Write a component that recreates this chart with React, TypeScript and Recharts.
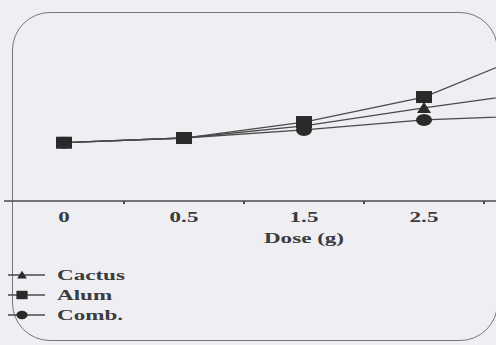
import React from 'react';
import { LineChart, Line, XAxis, YAxis, Legend } from 'recharts';

// ---- data ----
const doseLabels = ['0', '0.5', '1.5', '2.5', '3.5'];
const cactus = [31, 33.5, 40, 49.5, 58.5];
const alum = [31, 33.5, 42, 55.3, 81.4];
const comb = [31, 33.5, 37.8, 43.1, 45.7];
const seriesNames = ['Cactus', 'Alum', 'Comb.'];
const xTicks = [0, 0.5, 1, 1.5, 2, 2.5, 3, 3.5, 4];

const data = doseLabels.map((d, i) => ({
  idx: i,
  dose: d,
  cactus: cactus[i],
  alum: alum[i],
  comb: comb[i],
}));

// ---- styles ----
const BG = '#eeeef3';
const LINE = '#4a4a4a';
const MARK = '#2a2a2a';
const TEXT = '#3c3c3c';
const FONT = '"Liberation Serif", "Times New Roman", serif';
const STRETCH = 1.65;

type Kind = 'square' | 'triangle' | 'circle';
const kindOf: Record<string, Kind> = { Cactus: 'triangle', Alum: 'square', 'Comb.': 'circle' };

function Marker({ kind, cx, cy, s = 1 }: { kind: Kind; cx: number; cy: number; s?: number }) {
  if (cx == null || cy == null) return null;
  if (kind === 'square')
    return <rect x={cx - 8 * s} y={cy - 6 * s} width={16 * s} height={12 * s} fill={MARK} />;
  if (kind === 'triangle')
    return (
      <polygon
        points={`${cx},${cy - 6 * s} ${cx + 7 * s},${cy + 5 * s} ${cx - 7 * s},${cy + 5 * s}`}
        fill={MARK}
      />
    );
  return <ellipse cx={cx} cy={cy} rx={8 * s} ry={6 * s} fill={MARK} />;
}

const dotFor = (kind: Kind) => (p: any) => (
  <Marker key={`${kind}-${p.index}`} kind={kind} cx={p.cx} cy={p.cy} />
);

function StretchText({ x, y, children, anchor = 'middle' }: any) {
  return (
    <text
      transform={`translate(${x} ${y}) scale(${STRETCH} 1)`}
      x={0}
      y={0}
      textAnchor={anchor}
      fontFamily={FONT}
      fontSize={14}
      fontWeight="bold"
      fill={TEXT}
    >
      {children}
    </text>
  );
}

function AxisTick(props: any) {
  const { x, y, payload } = props;
  const v = payload.value;
  if (Number.isInteger(v)) {
    return <StretchText x={x} y={y + 21}>{doseLabels[v]}</StretchText>;
  }
  return <line x1={x} x2={x} y1={y} y2={y + 3} stroke={LINE} strokeWidth={2} />;
}

function AxisLabel(props: any) {
  const vb = props.viewBox || {};
  return (
    <StretchText x={vb.x + vb.width / 2} y={vb.y + 42}>
      Dose (g)
    </StretchText>
  );
}

function LegendContent(props: any) {
  const payload = [...(props.payload || [])].sort(
    (a: any, b: any) => seriesNames.indexOf(a.value) - seriesNames.indexOf(b.value)
  );
  return (
    <svg width={150} height={70} style={{ overflow: 'visible', display: 'block' }}>
      {payload.map((entry: any, i: number) => {
        const cy = 13 + i * 20;
        return (
          <g key={entry.value}>
            <line x1={8} x2={45} y1={cy} y2={cy} stroke={LINE} strokeWidth={1.5} />
            <Marker kind={kindOf[entry.value]} cx={22} cy={cy} s={0.7} />
            <StretchText x={57} y={cy + 5} anchor="start">
              {entry.value}
            </StretchText>
          </g>
        );
      })}
    </svg>
  );
}

export default function App() {
  return (
    <div
      style={{
        position: 'fixed',
        left: 0,
        top: 0,
        width: 496,
        height: 345,
        overflow: 'hidden',
        background: BG,
      }}
    >
      <div
        style={{
          position: 'absolute',
          left: 12,
          top: 12,
          width: 486,
          height: 329,
          boxSizing: 'border-box',
          border: '1.5px solid #777',
          borderRadius: 38,
        }}
      />
      <div style={{ position: 'absolute', left: 0, top: 0 }}>
        <LineChart
          width={620}
          height={345}
          data={data}
          margin={{ top: 13, right: 16, left: 4, bottom: 0 }}
        >
          <XAxis
            dataKey="idx"
            type="number"
            domain={[-0.5, 4.5]}
            ticks={xTicks}
            interval={0}
            height={144}
            tickSize={0}
            tickMargin={0}
            tickLine={false}
            axisLine={{ stroke: LINE, strokeWidth: 1.5 }}
            tick={<AxisTick />}
            label={{ value: 'Dose (g)', content: <AxisLabel /> }}
          />
          <YAxis hide type="number" domain={[0, 100]} />
          <Line
            dataKey="comb"
            name="Comb."
            stroke={LINE}
            strokeWidth={1.3}
            dot={dotFor('circle')}
            isAnimationActive={false}
          />
          <Line
            dataKey="cactus"
            name="Cactus"
            stroke={LINE}
            strokeWidth={1.3}
            dot={dotFor('triangle')}
            isAnimationActive={false}
          />
          <Line
            dataKey="alum"
            name="Alum"
            stroke={LINE}
            strokeWidth={1.3}
            dot={dotFor('square')}
            isAnimationActive={false}
          />
          <Legend
            layout="horizontal"
            verticalAlign="middle"
            align="center"
            wrapperStyle={{ left: 0, top: 262, width: 150, height: 70 }}
            content={<LegendContent />}
          />
        </LineChart>
      </div>
    </div>
  );
}
